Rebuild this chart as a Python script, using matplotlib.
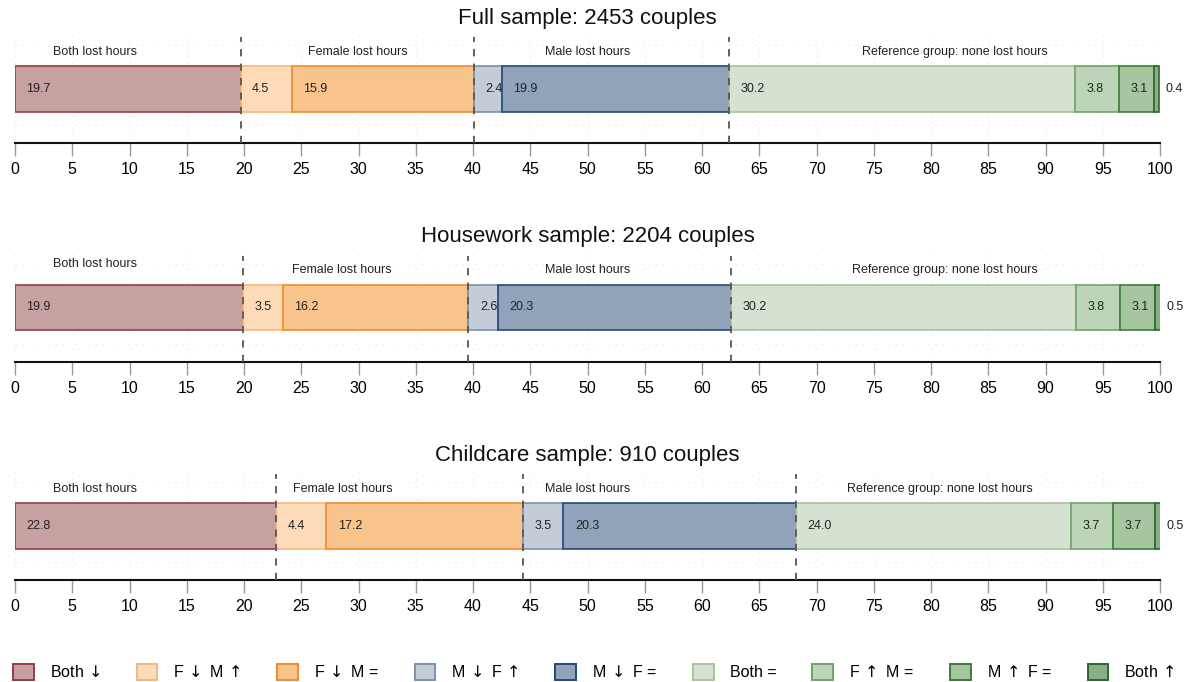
import matplotlib
matplotlib.use("Agg")
import matplotlib.pyplot as plt
from matplotlib.patches import Patch
import numpy as np

plt.rcParams['font.family'] = ['Liberation Sans', 'DejaVu Sans']
plt.rcParams['mathtext.fontset'] = 'dejavusans'

categories = ["Both \u2193", "F \u2193 M \u2191", "F \u2193 M =", "M \u2193 F \u2191", "M \u2193 F =",
              "Both =", "F \u2191 M =", "M \u2191 F =", "Both \u2191"]
titles = ["Full sample: 2453 couples", "Housework sample: 2204 couples", "Childcare sample: 910 couples"]
full_vals = [19.7, 4.5, 15.9, 2.4, 19.9, 30.2, 3.8, 3.1, 0.4]
housework_vals = [19.9, 3.5, 16.2, 2.6, 20.3, 30.2, 3.8, 3.1, 0.5]
childcare_vals = [22.8, 4.4, 17.2, 3.5, 20.3, 24.0, 3.7, 3.7, 0.5]
panels = [full_vals, housework_vals, childcare_vals]
group_names = ["Both lost hours", "Female lost hours", "Male lost hours", "Reference group: none lost hours"]
group_label_x = [[7.0, 29.9, 50.0, 82.1], [7.0, 28.5, 50.0, 81.2], [7.0, 28.6, 50.0, 80.8]]
group_label_y = [[0.83, 0.83, 0.83, 0.83], [0.89, 0.835, 0.835, 0.835], [0.83, 0.83, 0.83, 0.83]]
xticks = list(range(0, 101, 5))

face_colors = ["#c7a0a1", "#fddbb9", "#f9c48b", "#c4ccd8", "#91a3b9",
               "#d7e1d1", "#bcd4b8", "#a6c5a1", "#89ad86"]
edge_colors = ["#9a3a45", "#f9b77a", "#ef8b2c", "#7d90ab", "#224a7b",
               "#a9c29c", "#72a26b", "#417c3c", "#2b6a2b"]

W, H = 1187, 682
fig = plt.figure(figsize=(W / 100, H / 100), dpi=100)

left_px, right_px = 15, 1160
for i, vals in enumerate(panels):
    yb = 143 + 218.5 * i
    yt = yb - 110
    ax = fig.add_axes([left_px / W, 1 - yb / H, (right_px - left_px) / W, (yb - yt) / H])
    ax.set_xlim(0, 100)
    ax.set_ylim(0, 1)
    starts = np.concatenate([[0], np.cumsum(vals)[:-1]])
    ax.barh([0.491] * len(vals), vals, left=starts, height=0.418,
            color=face_colors, edgecolor=edge_colors, linewidth=1.2, zorder=3)
    for s, v in zip(starts, vals):
        ax.text(s + 1.0, 0.491, f"{v:.1f}", ha='left', va='center', fontsize=9,
                color='#222222', zorder=5)
    cs = np.cumsum(vals)
    for b in [cs[0], cs[2], cs[4]]:
        ax.plot([b, b], [0.0, 0.96], color='#555555', linestyle=(0, (4, 4)),
                linewidth=1.3, zorder=4)
    for name, gx, gy in zip(group_names, group_label_x[i], group_label_y[i]):
        ax.text(gx, gy, name, ha='center', va='center', fontsize=9, color='#222222')
    ax.text(50, 1.135, titles[i], ha='center', va='center', fontsize=16, color='#111111')

    ax.set_xticks(xticks)
    ax.set_xticklabels([str(t) for t in xticks], fontsize=11.5)
    ax.set_yticks([0.16, 0.49, 0.89])
    ax.tick_params(axis='y', length=0, labelleft=False)
    ax.tick_params(axis='x', length=9, width=1, color='#999999', pad=5)
    ax.grid(True, linestyle=(0, (1, 5)), color='#e6e6e6', linewidth=0.8, zorder=0)
    for sp in ['top', 'right', 'left']:
        ax.spines[sp].set_visible(False)
    ax.spines['bottom'].set_linewidth(1.5)
    ax.spines['bottom'].set_color('#111111')

legend_labels = [c.replace(" \u2193", r"$\,\downarrow$").replace(" \u2191", r"$\,\uparrow$") for c in categories]
handles = [Patch(facecolor=fc, edgecolor=ec, linewidth=1.4) for fc, ec in zip(face_colors, edge_colors)]
fig.legend(handles, legend_labels, loc='center', ncol=9, mode='expand',
           bbox_to_anchor=(13 / W, 1 - 690 / H, 1162 / W, 36 / H), frameon=False,
           fontsize=11.5, handlelength=1.3, handleheight=1.15, handletextpad=1.0,
           borderaxespad=0, borderpad=0)

fig.savefig("out.png", dpi=100)
